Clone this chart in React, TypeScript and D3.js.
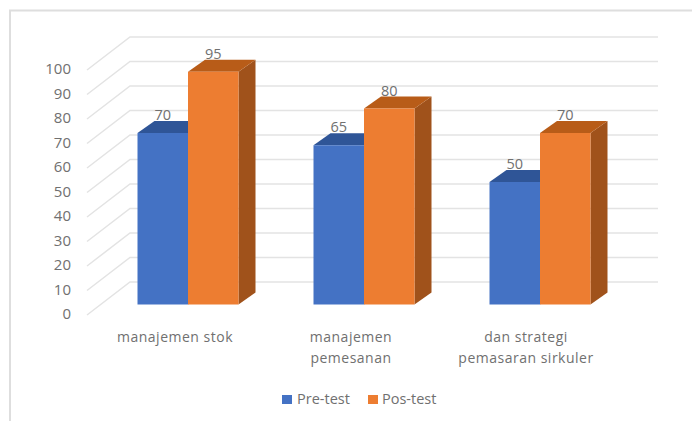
import React from "react";
import * as d3 from "d3";

const categories: string[][] = [
  ["manajemen stok"],
  ["manajemen", "pemesanan"],
  ["dan strategi", "pemasaran sirkuler"],
];
const preTest = [70, 65, 50];
const posTest = [95, 80, 70];
const axisTicks = d3.range(0, 101, 10);

const W = 692;
const H = 421;
const FONT = "'Open Sans', 'Noto Sans', sans-serif";
const TEXT = "#707070";
const GRID = "#e3e3e3";

// Oblique projection: the floor runs 43px right and 33px up from front to back.
const floorDx = 43;
const floorDy = 33;
const barDx = 17;
const barDy = 12;
const barInsetX = (floorDx - barDx) / 2;
const barInsetY = (floorDy - barDy) / 2;

const y = d3.scaleLinear().domain([0, 100]).range([282, 37]);
const x = d3.scaleBand<number>().domain([0, 1, 2]).range([87, 615]);
const barW = 50.5;

const poly = (pts: [number, number][]) => pts.map((p) => p.join(",")).join(" ");

function Bar({ left, value, front, top, side }: { left: number; value: number; front: string; top: string; side: string }) {
  const bottom = y(0) + floorDy - barInsetY;
  const h = y(0) - y(value);
  const t = bottom - h;
  const r = left + barW;
  return (
    <g>
      <polygon points={poly([[r, t], [r + barDx, t - barDy], [r + barDx, bottom - barDy], [r, bottom]])} fill={side} />
      <polygon points={poly([[left, t], [left + barDx, t - barDy], [r + barDx, t - barDy], [r, t]])} fill={top} />
      <rect x={left} y={t} width={barW} height={h} fill={front} />
    </g>
  );
}

function Label({ cx, value }: { cx: number; value: number }) {
  const bottom = y(0) + floorDy - barInsetY;
  const t = bottom - (y(0) - y(value));
  return (
    <text x={cx} y={t - 18} dy="0.35em" textAnchor="middle" fontFamily={FONT} fontSize={14.5} fill={TEXT}>
      {value}
    </text>
  );
}

export default function App() {
  return (
    <svg width={W} height={H} viewBox={`0 0 ${W} ${H}`} style={{ position: "absolute", left: 0, top: 0, display: "block", background: "#fff" }}>
      <path d={`M${W},10.5 H10 V${H}`} fill="none" stroke="#dedede" strokeWidth={2} />

      {axisTicks.map((t) => (
        <g key={t}>
          <polyline
            points={poly([[130 - floorDx, y(t) + floorDy], [130, y(t)], [658, y(t)]])}
            fill="none"
            stroke={GRID}
            strokeWidth={1.5}
          />
          <text x={71} y={y(t) + 32} dy="0.35em" textAnchor="end" fontFamily={FONT} fontSize={15} fill={TEXT}>
            {t}
          </text>
        </g>
      ))}

      {categories.map((_, i) => {
        const c = x(i)! + x.bandwidth() / 2 + barInsetX;
        return (
          <g key={i}>
            <Bar left={c - barW} value={preTest[i]} front="#4472c4" top="#2f5597" side="#2f5597" />
            <Bar left={c} value={posTest[i]} front="#ed7d31" top="#b85c18" side="#a0521b" />
          </g>
        );
      })}

      {categories.map((_, i) => {
        const c = x(i)! + x.bandwidth() / 2 + barInsetX;
        return (
          <g key={i}>
            <Label cx={c - barW / 2} value={preTest[i]} />
            <Label cx={c + barW / 2} value={posTest[i]} />
          </g>
        );
      })}

      {categories.map((lines, i) => (
        <text key={i} textAnchor="middle" fontFamily={FONT} fontSize={14} letterSpacing={0.5} fill={TEXT}>
          {lines.map((line, j) => (
            <tspan key={j} x={x(i)! + x.bandwidth() / 2 - (i === 2 ? 1 : 0)} y={337 + j * 21} dy="0.35em">
              {line}
            </tspan>
          ))}
        </text>
      ))}

      <rect x={282} y={395} width={10} height={9} fill="#4472c4" />
      <text x={297} y={399} dy="0.35em" fontFamily={FONT} fontSize={14.5} fill={TEXT}>Pre-test</text>
      <rect x={368} y={395} width={10} height={9} fill="#ed7d31" />
      <text x={382} y={399} dy="0.35em" fontFamily={FONT} fontSize={14.5} fill={TEXT}>Pos-test</text>
    </svg>
  );
}
